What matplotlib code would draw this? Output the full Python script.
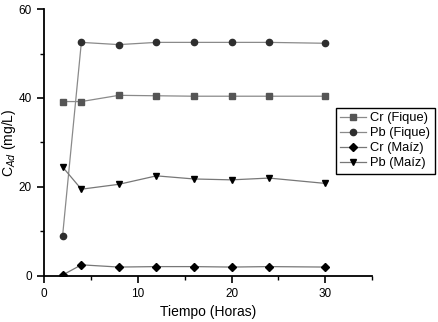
import matplotlib
matplotlib.use("Agg")
import matplotlib.pyplot as plt
from matplotlib.ticker import MultipleLocator

plt.rcParams['font.family'] = ['Liberation Sans', 'DejaVu Sans']

tiempo = [2, 4, 8, 12, 16, 20, 24, 30]
cr_fique = [39.2, 39.2, 40.6, 40.5, 40.4, 40.4, 40.4, 40.4]
pb_fique = [9.0, 52.5, 52.0, 52.5, 52.5, 52.5, 52.5, 52.3]
cr_maiz = [0.2, 2.5, 2.0, 2.1, 2.1, 2.0, 2.1, 2.0]
pb_maiz = [24.5, 19.5, 20.6, 22.5, 21.8, 21.6, 22.0, 20.8]

fig = plt.figure(figsize=(4.38, 3.22), dpi=100)
ax = fig.add_axes([0.1, 0.143, 0.75, 0.829])

lc = '#8a8a8a'
ax.plot(tiempo, cr_fique, color=lc, lw=0.9, marker='s', ms=3.8, mfc='#555555', mec='#555555', label='Cr (Fique)')
ax.plot(tiempo, pb_fique, color=lc, lw=0.9, marker='o', ms=4.5, mfc='#2e2e2e', mec='#2e2e2e', label='Pb (Fique)')
ax.plot(tiempo, cr_maiz, color='#777777', lw=0.9, marker='D', ms=3.8, mfc='black', mec='black', label='Cr (Maíz)')
ax.plot(tiempo, pb_maiz, color='#777777', lw=0.9, marker='v', ms=5, mfc='black', mec='black', label='Pb (Maíz)')

ax.set_xlim(0, 35)
ax.set_ylim(0, 60)
ax.xaxis.set_major_locator(MultipleLocator(10))
ax.xaxis.set_minor_locator(MultipleLocator(5))
ax.yaxis.set_major_locator(MultipleLocator(20))
ax.yaxis.set_minor_locator(MultipleLocator(10))
ax.spines['top'].set_visible(False)
ax.spines['right'].set_visible(False)
ax.spines['left'].set_linewidth(1.3)
ax.spines['bottom'].set_linewidth(1.3)
ax.tick_params(which='major', direction='out', length=5, width=1.2, labelsize=8.5)
ax.tick_params(which='minor', direction='out', length=3, width=1.0)

ax.set_xlabel('Tiempo (Horas)', fontsize=10)
ax.set_ylabel(r'C$_{Ad}$ (mg/L)', fontsize=10)
ax.yaxis.set_label_coords(-0.078, 0.5)

ax.legend(loc='upper left', bbox_to_anchor=(0.767, 0.665), bbox_transform=fig.transFigure,
          fontsize=9.3, frameon=True, fancybox=False, edgecolor='black', framealpha=1,
          handlelength=2.0, handletextpad=0.3, labelspacing=0.22, borderpad=0.35,
          borderaxespad=0)

fig.savefig('out.png', dpi=100)
